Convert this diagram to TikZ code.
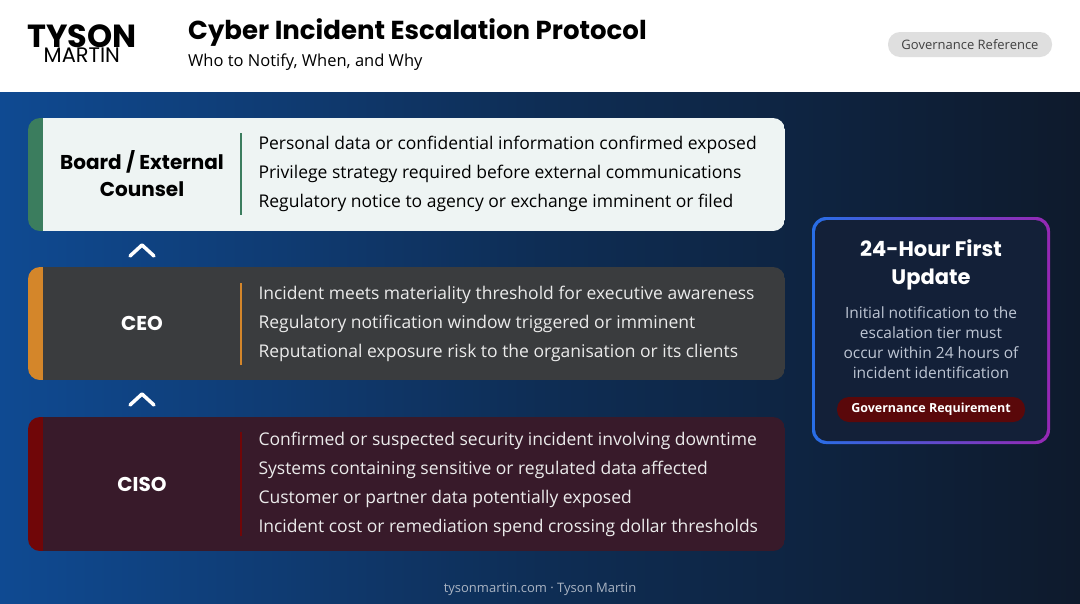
\documentclass[tikz,border=0pt]{standalone}
\usepackage{fontspec}
\setmainfont{Open Sans}
\newfontfamily\pop{Poppins}
\usetikzlibrary{shadings}
\definecolor{bgL}{HTML}{0F4A92}
\definecolor{bgR}{HTML}{0E1A2C}
\definecolor{grn}{RGB}{59,125,94}
\definecolor{card1}{RGB}{238,244,243}
\definecolor{org}{RGB}{212,134,42}
\definecolor{card2}{RGB}{58,60,62}
\definecolor{redb}{RGB}{112,6,8}
\definecolor{card3}{RGB}{56,26,42}
\definecolor{bblue}{RGB}{40,110,230}
\definecolor{bpurp}{RGB}{150,40,180}
\definecolor{rbox}{RGB}{19,32,56}
\definecolor{rtxt}{RGB}{190,198,212}
\definecolor{gpill}{RGB}{90,8,10}
\definecolor{ftc}{RGB}{170,180,195}
\tikzset{
  card/.style={rounded corners=12pt},
  line/.style={anchor=west,font=\fontsize{17.5}{20}\selectfont},
  lab/.style={align=center,font=\pop\bfseries\fontsize{20}{27}\selectfont},
  chev/.style={white,line width=3.5pt,line cap=round,line join=round}
}
\begin{document}
\begin{tikzpicture}[x=1pt,y=-1pt]
\useasboundingbox (0,0) rectangle (1080,603);
\shade[left color=bgL,right color=bgR,middle color=bgR!60!bgL] (0,92) rectangle (1080,603);
\fill[white] (0,0) rectangle (1080,92);
% header
\node[anchor=west,inner sep=0,font=\pop\bfseries\fontsize{32}{32}\selectfont] (tyson) at (27,36) {TYSON};
\node[anchor=north,inner sep=0,font=\pop\fontsize{21}{21}\selectfont] (martin) at (tyson.south) {MARTIN};
\node[anchor=west,inner sep=0,font=\pop\bfseries\fontsize{26}{26}\selectfont] (title) at (188,33) {Cyber Incident Escalation Protocol};
\node[anchor=west,inner sep=0,font=\fontsize{16.5}{17}\selectfont] (sub) at (188,62) {Who to Notify, When, and Why};
\node[fill=gray!25,rounded corners=12pt,minimum width=164pt,minimum height=25pt,font=\fontsize{13}{13}\selectfont,text=black!75] (pill) at (970,44.5) {Governance Reference};
% card 1
\begin{scope}
\clip[card] (28,118) rectangle (785,231);
\fill[grn] (28,118) rectangle (43,231);
\fill[card1] (43,118) rectangle (785,231);
\end{scope}
\node[lab] (b) at (142,174) {Board / External\\Counsel};
\draw[line width=2.5pt,grn] (241,133) -- (241,215);
\node[line] (b1) at (255,145) {Personal data or confidential information confirmed exposed};
\node[line] (b2) at (255,174) {Privilege strategy required before external communications};
\node[line] (b3) at (255,203) {Regulatory notice to agency or exchange imminent or filed};
\draw[chev] (130,256) -- (142,245) -- (154,256);
% card 2
\begin{scope}
\clip[card] (28,267) rectangle (785,380);
\fill[org] (28,267) rectangle (43,380);
\fill[card2] (43,267) rectangle (785,380);
\end{scope}
\node[lab,text=white] (c) at (142,323) {CEO};
\draw[line width=2.5pt,org] (241,283) -- (241,365);
\begin{scope}[every node/.append style={text=white!92!black}]
\node[line] (c1) at (255,295) {Incident meets materiality threshold for executive awareness};
\node[line] (c2) at (255,324) {Regulatory notification window triggered or imminent};
\node[line] (c3) at (255,353) {Reputational exposure risk to the organisation or its clients};
\end{scope}
\draw[chev] (130,405) -- (142,394) -- (154,405);
% card 3
\begin{scope}
\clip[card] (28,417) rectangle (785,551);
\fill[redb] (28,417) rectangle (43,551);
\fill[card3] (43,417) rectangle (785,551);
\end{scope}
\node[lab,text=white] (s) at (142,484) {CISO};
\draw[line width=2.5pt,redb] (241,432) -- (241,536);
\begin{scope}[every node/.append style={text=white!92!black}]
\node[line] (s1) at (255,441) {Confirmed or suspected security incident involving downtime};
\node[line] (s2) at (255,470) {Systems containing sensitive or regulated data affected};
\node[line] (s3) at (255,499) {Customer or partner data potentially exposed};
\node[line] (s4) at (255,528) {Incident cost or remediation spend crossing dollar thresholds};
\end{scope}
% right box
\shade[left color=bblue,right color=bpurp,rounded corners=14pt] (812,217) rectangle (1050,444);
\fill[rbox,rounded corners=12pt] (815,220) rectangle (1047,441);
\node[align=center,text=white,font=\pop\bfseries\fontsize{21}{28}\selectfont] (rt) at (931,265) {24-Hour First\\Update};
\node[align=center,text=rtxt,font=\fontsize{15.5}{20}\selectfont] (rb) at (931,343) {Initial notification to the\\escalation tier must\\occur within 24 hours of\\incident identification};
\node[fill=gpill,rounded corners=12pt,minimum width=188pt,minimum height=25pt,text=white,font=\bfseries\fontsize{12.5}{13}\selectfont] (gr) at (931,409.5) {Governance Requirement};
\node[text=ftc,font=\fontsize{13}{13}\selectfont] (ft) at (540,589) {tysonmartin.com · Tyson Martin};
\end{tikzpicture}
\end{document}
